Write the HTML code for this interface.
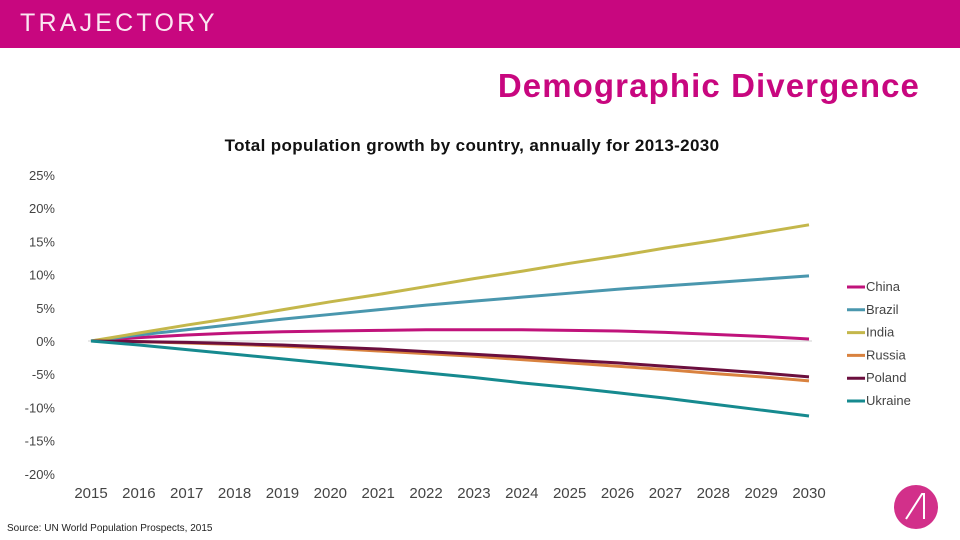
<!DOCTYPE html>
<html><head><meta charset="utf-8"><style>
body{margin:0;width:960px;height:540px;overflow:hidden;background:#fff;font-family:"Liberation Sans",sans-serif;position:relative}
.hdr{position:absolute;left:0;top:0;width:960px;height:48px;background:#C8077F}
.logo{position:absolute;left:20px;top:9px;color:#fbe6f2;font-size:25px;letter-spacing:3.2px}
.title{position:absolute;right:40px;top:67px;color:#C8077F;font-size:33px;font-weight:bold;letter-spacing:1.1px}
.sub{position:absolute;left:0;width:944px;text-align:center;top:136px;font-size:17px;font-weight:bold;color:#111;letter-spacing:0.35px}
.src{position:absolute;left:7px;top:523px;font-size:10px;color:#222}
</style></head><body>
<div class="hdr"><div class="logo">TRAJECTORY</div></div>
<div class="title">Demographic Divergence</div>
<div class="sub">Total population growth by country, annually for 2013-2030</div>
<div class="src">Source: UN World Population Prospects, 2015</div>
<svg id="c" width="960" height="540" style="position:absolute;left:0;top:0">
<circle cx="916" cy="507" r="22" fill="#D2308A"/>
<path d="M906 519 L922 494 L924 494 L924 519" stroke="#fff" stroke-width="2" fill="none"/>
</svg>
<script>
const years=[2015,2016,2017,2018,2019,2020,2021,2022,2023,2024,2025,2026,2027,2028,2029,2030];
const yTicks=[25,20,15,10,5,0,-5,-10,-15,-20];
const seriesNames=["China","Brazil","India","Russia","Poland","Ukraine"];
const colors=["#C0137B","#4A97AE","#C4B74B","#D9823F","#6B0F3E","#168A8F"];
const china=[0,0.5,0.9,1.2,1.4,1.5,1.6,1.7,1.7,1.7,1.6,1.5,1.3,1.0,0.7,0.3];
const brazil=[0,0.9,1.7,2.5,3.3,4.0,4.7,5.4,6.0,6.6,7.2,7.8,8.3,8.8,9.3,9.8];
const india=[0,1.2,2.4,3.5,4.7,5.9,7.0,8.2,9.4,10.5,11.7,12.8,14.0,15.1,16.3,17.5];
const russia=[0,-0.1,-0.3,-0.5,-0.8,-1.1,-1.5,-1.9,-2.3,-2.8,-3.3,-3.8,-4.3,-4.9,-5.4,-6.0];
const poland=[0,-0.1,-0.2,-0.4,-0.6,-0.9,-1.2,-1.6,-2.0,-2.4,-2.9,-3.3,-3.8,-4.3,-4.8,-5.4];
const ukraine=[0,-0.6,-1.3,-2.0,-2.7,-3.4,-4.1,-4.8,-5.5,-6.3,-7.0,-7.8,-8.6,-9.5,-10.4,-11.3];
const series=[china,brazil,india,russia,poland,ukraine];
const svg=document.getElementById('c');const NS="http://www.w3.org/2000/svg";
const x=i=>91+i*(809-91)/(years.length-1);
const y=v=>341-v*6.64;
function mk(t,a){const e=document.createElementNS(NS,t);for(const k in a)e.setAttribute(k,a[k]);svg.appendChild(e);return e;}
const zl=mk('line',{x1:88,x2:812,y1:y(0),y2:y(0),stroke:'#d0d0d0','stroke-width':1});


yTicks.forEach(t=>{const e=mk('text',{x:55,y:y(t)+5,'text-anchor':'end','font-size':13,fill:'#444','font-family':'Liberation Sans'});e.textContent=t+'%';

});
years.forEach((yr,i)=>{const e=mk('text',{x:x(i),y:498,'text-anchor':'middle','font-size':15,fill:'#444','font-family':'Liberation Sans'});e.textContent=yr;

});
series.forEach((s,k)=>{const p=mk('polyline',{points:s.map((v,i)=>x(i)+','+y(v)).join(' '),fill:'none',stroke:colors[k],'stroke-width':3,'stroke-linejoin':'round'});


const ly=287+k*22.8;
const l=mk('line',{x1:847,x2:865,y1:ly,y2:ly,stroke:colors[k],'stroke-width':3});


const t=mk('text',{x:866,y:ly+4,'font-size':13,fill:'#444','font-family':'Liberation Sans'});t.textContent=seriesNames[k];

});
</script>
</body></html>
